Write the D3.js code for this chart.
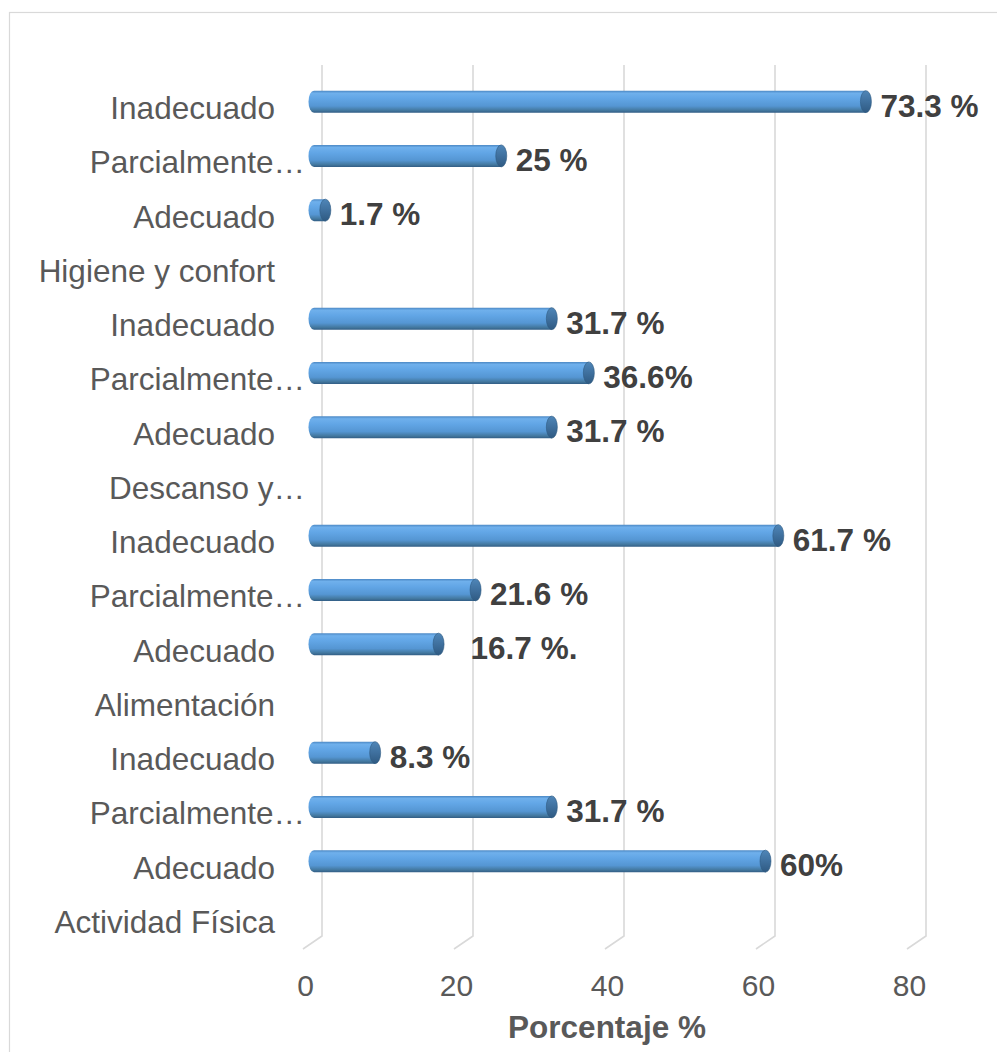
<!DOCTYPE html>
<html>
<head>
<meta charset="utf-8">
<script src="https://cdn.jsdelivr.net/npm/d3@7"></script>
<style>
  html, body { margin: 0; padding: 0; background: #ffffff; }
  svg { display: block; font-family: "Liberation Sans", Arial, sans-serif; }
</style>
</head>
<body>
<svg id="chart" width="997" height="1052"></svg>
<script>
// Categories, top to bottom (group headers have no bar)
const categories = [
  "Inadecuado", "Parcialmente…", "Adecuado", "Higiene y confort",
  "Inadecuado", "Parcialmente…", "Adecuado", "Descanso y…",
  "Inadecuado", "Parcialmente…", "Adecuado", "Alimentación",
  "Inadecuado", "Parcialmente…", "Adecuado", "Actividad Física"
];
// Percentages per row (null = group header row)
const values = [
  73.3, 25, 1.7, null,
  31.7, 36.6, 31.7, null,
  61.7, 21.6, 16.7, null,
  8.3, 31.7, 60, null
];
// Data labels as printed next to each bar
const valueLabels = [
  "73.3 %", "25 %", "1.7 %", null,
  "31.7 %", "36.6%", "31.7 %", null,
  "61.7 %", "21.6 %", "\u00a0\u00a016.7 %.", null,
  "8.3 %", "31.7 %", "60%", null
];
const xTicks = [0, 20, 40, 60, 80];
const axisTitle = "Porcentaje %";

const svg = d3.select("#chart");
const rows = categories.map((c, i) => ({ i, label: c, value: values[i], text: valueLabels[i] }));

// Front plane scales; the back wall is offset by the 3D depth vector
const x = d3.scaleLinear().domain([0, 80]).range([303, 907]);
const y = d3.scaleBand().domain(d3.range(categories.length)).range([81, 949]).paddingInner(0).paddingOuter(0);
const depthX = 19, depthY = -13;

// Chart frame
svg.append("rect")
  .attr("x", 9.5).attr("y", 12.5).attr("width", 1000).attr("height", 1060)
  .attr("fill", "none").attr("stroke", "#d9d9d9").attr("stroke-width", 1.2);

// Gradient for cylinder bodies
const defs = svg.append("defs");
const grad = defs.append("linearGradient").attr("id", "cyl").attr("x1", 0).attr("y1", 0).attr("x2", 0).attr("y2", 1);
[[0, "#4a86c2"], [0.12, "#6fb0ec"], [0.35, "#62a6e6"], [0.7, "#5596d3"], [0.9, "#43789f"], [1, "#325e86"]]
  .forEach(([o, c]) => grad.append("stop").attr("offset", o).attr("stop-color", c));
const capGrad = defs.append("linearGradient").attr("id", "cap").attr("x1", 0).attr("y1", 0).attr("x2", 0).attr("y2", 1);
[[0, "#4f86b8"], [0.5, "#3f709e"], [1, "#2f5a82"]]
  .forEach(([o, c]) => capGrad.append("stop").attr("offset", o).attr("stop-color", c));

// Back-wall gridlines with floor diagonals
const yTop = 65, yBack = 949 + depthY;
const grid = svg.append("g").attr("stroke", "#d9d9d9").attr("stroke-width", 1.6).attr("fill", "none");
grid.selectAll("path").data(xTicks).join("path")
  .attr("d", v => `M${x(v) + depthX},${yTop}L${x(v) + depthX},${yBack}L${x(v)},${949}`);

// Category labels (left axis on the front plane); truncated labels keep
// the space of their hidden tail, so they reach further right
const yAxis = d3.axisLeft(y).tickSize(0).tickPadding(0).tickFormat(i => categories[i]);
const gy = svg.append("g").attr("transform", "translate(275,0)").call(yAxis);
gy.select(".domain").remove();
gy.selectAll("text")
  .attr("font-size", 31.5).attr("fill", "#595959")
  .attr("font-family", "'Liberation Sans', Arial, sans-serif")
  .attr("x", i => categories[i].endsWith("…") ? 30 : 0)
  .attr("dy", "0.35em");

// Tick labels along the front floor edge
const xAxis = d3.axisBottom(x).tickValues(xTicks).tickSize(0).tickPadding(0);
const gx = svg.append("g").attr("transform", "translate(2,0)").call(xAxis);
gx.select(".domain").remove();
gx.selectAll("text")
  .attr("y", 985).attr("dy", "0.35em")
  .attr("font-size", 30).attr("fill", "#595959")
  .attr("font-family", "'Liberation Sans', Arial, sans-serif");

// Axis title
svg.append("text")
  .attr("x", 607).attr("y", 1027).attr("dy", "0.35em")
  .attr("text-anchor", "middle")
  .attr("font-size", 31.5).attr("font-weight", "bold").attr("fill", "#595959")
  .text(axisTitle);

// Cylinders sit midway through the depth
const midX = depthX / 2, midY = depthY / 2;
const barH = 22, ry = barH / 2, rx = 5.5;
const barRows = rows.filter(d => d.value != null);

const bars = svg.append("g").selectAll("g").data(barRows).join("g")
  .attr("transform", d => `translate(0,${y(d.i) + y.bandwidth() / 2 + midY})`);

bars.append("path")
  .attr("fill", "url(#cyl)")
  .attr("d", d => {
    const x0 = x(0) + midX + 1.5;
    const x1 = Math.max(x(d.value) + midX, x0 + 1);
    return `M${x1},${-ry}L${x0},${-ry}A${rx},${ry} 0 0 0 ${x0},${ry}L${x1},${ry}Z`;
  });

bars.append("ellipse")
  .attr("cx", d => Math.max(x(d.value) + midX, x(0) + midX + 2.5))
  .attr("cy", 0)
  .attr("rx", rx).attr("ry", ry)
  .attr("fill", "url(#cap)")
  .attr("stroke", "#2f5a82").attr("stroke-width", 0.6);

// Value labels
bars.append("text")
  .attr("x", d => Math.max(x(d.value) + midX, x(0) + midX + 2.5) + rx + 9)
  .attr("y", 4).attr("dy", "0.35em")
  .attr("font-size", 31.5).attr("font-weight", "bold").attr("fill", "#404040")
  .style("white-space", "pre")
  .text(d => d.text);
</script>
</body>
</html>
